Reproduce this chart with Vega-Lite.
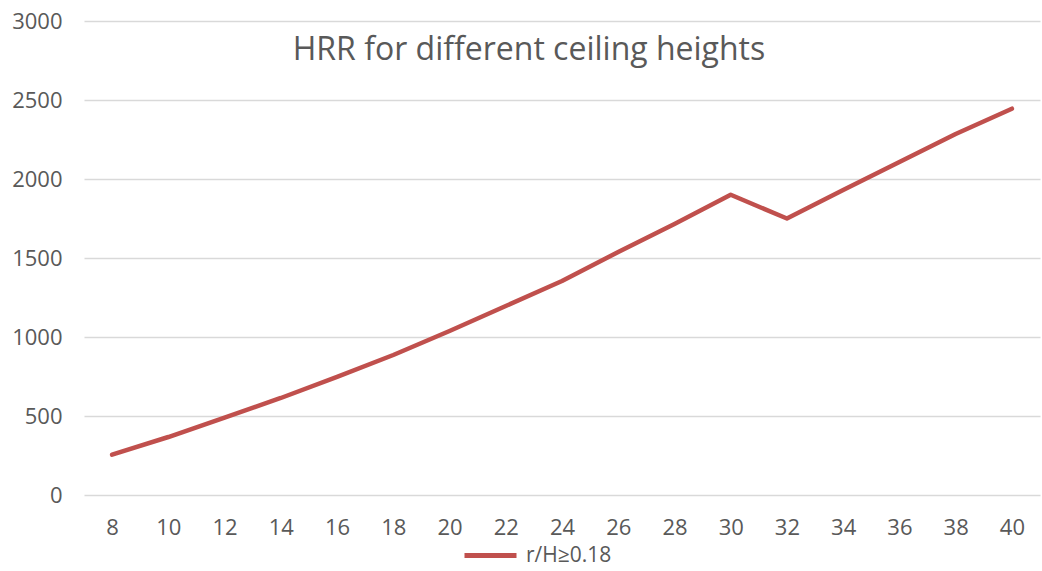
{
  "$schema": "https://vega.github.io/schema/vega-lite/v6.json",
  "autosize": "none",
  "width": 956,
  "height": 474,
  "padding": {"left": 84, "top": 21, "right": 2, "bottom": 76},
  "background": "white",
  "title": {
    "text": "HRR for different ceiling heights",
    "anchor": "middle",
    "frame": "group",
    "orient": "top",
    "offset": -57,
    "dx": -33,
    "font": "Open Sans",
    "fontSize": 32,
    "fontWeight": "normal",
    "color": "#595959"
  },
  "data": {
    "values": [
      {"h": 8, "hrr": 255, "series": "r/H≥0.18"},
      {"h": 10, "hrr": 367, "series": "r/H≥0.18"},
      {"h": 12, "hrr": 490, "series": "r/H≥0.18"},
      {"h": 14, "hrr": 614, "series": "r/H≥0.18"},
      {"h": 16, "hrr": 747, "series": "r/H≥0.18"},
      {"h": 18, "hrr": 886, "series": "r/H≥0.18"},
      {"h": 20, "hrr": 1038, "series": "r/H≥0.18"},
      {"h": 22, "hrr": 1196, "series": "r/H≥0.18"},
      {"h": 24, "hrr": 1354, "series": "r/H≥0.18"},
      {"h": 26, "hrr": 1538, "series": "r/H≥0.18"},
      {"h": 28, "hrr": 1715, "series": "r/H≥0.18"},
      {"h": 30, "hrr": 1900, "series": "r/H≥0.18"},
      {"h": 32, "hrr": 1750, "series": "r/H≥0.18"},
      {"h": 34, "hrr": 1930, "series": "r/H≥0.18"},
      {"h": 36, "hrr": 2108, "series": "r/H≥0.18"},
      {"h": 38, "hrr": 2285, "series": "r/H≥0.18"},
      {"h": 40, "hrr": 2445, "series": "r/H≥0.18"}
    ]
  },
  "mark": {"type": "line", "strokeWidth": 4.5, "strokeCap": "round", "strokeJoin": "round"},
  "encoding": {
    "x": {
      "field": "h",
      "type": "ordinal",
      "scale": {"type": "point", "padding": 0.5},
      "axis": {
        "title": null,
        "labelAngle": 0,
        "domain": false,
        "ticks": false,
        "grid": false,
        "labelPadding": 22,
        "labelFont": "Open Sans",
        "labelFontSize": 22,
        "labelColor": "#595959"
      }
    },
    "y": {
      "field": "hrr",
      "type": "quantitative",
      "scale": {"domain": [0, 3000], "nice": false},
      "axis": {
        "title": null,
        "values": [0, 500, 1000, 1500, 2000, 2500, 3000],
        "format": "d",
        "domain": false,
        "ticks": false,
        "grid": true,
        "gridColor": "#d9d9d9",
        "gridWidth": 1.5,
        "labelPadding": 22,
        "labelFont": "Open Sans",
        "labelFontSize": 22,
        "labelColor": "#595959"
      }
    },
    "color": {
      "field": "series",
      "type": "nominal",
      "scale": {"range": ["#C0504D"]},
      "legend": {
        "title": null,
        "orient": "none",
        "legendX": 378,
        "legendY": 506,
        "symbolType": "stroke",
        "symbolStrokeWidth": 5,
        "symbolSize": 2704,
        "labelFont": "Open Sans",
        "labelFontSize": 21,
        "labelColor": "#595959",
        "labelOffset": 7
      }
    }
  },
  "config": {"view": {"stroke": null}}
}
